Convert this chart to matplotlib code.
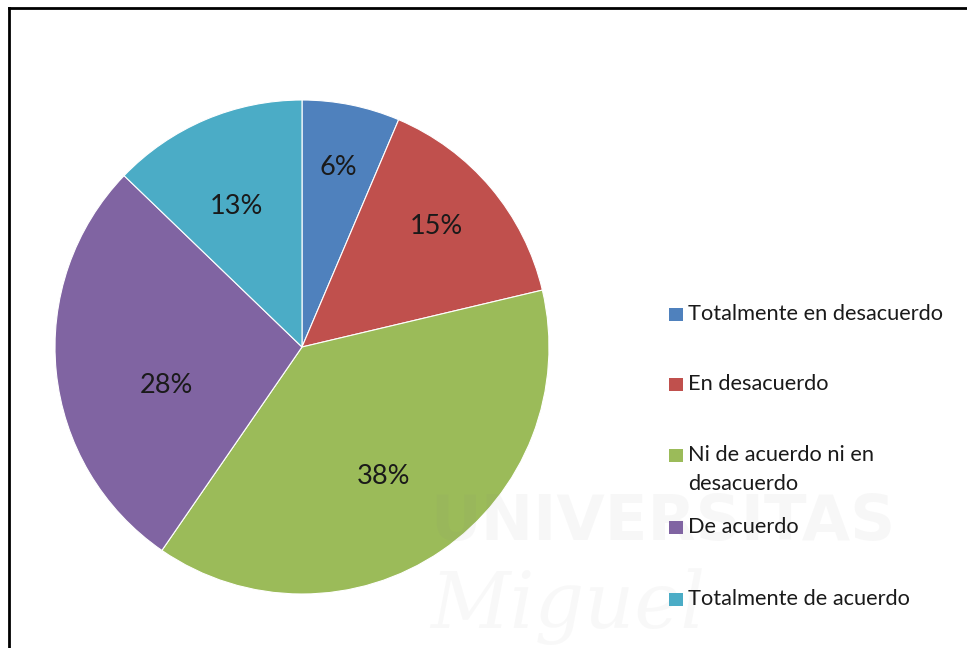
import matplotlib
matplotlib.use('Agg')
from matplotlib import pyplot as plt
from matplotlib.lines import Line2D
from matplotlib.patches import Rectangle
import numpy as np

# shares (labels show rounded values)
categories = ['Totalmente en desacuerdo', 'En desacuerdo', 'Ni de acuerdo ni en\ndesacuerdo',
              'De acuerdo', 'Totalmente de acuerdo']
shares = [6.4, 14.9, 38.3, 27.6, 12.8]
pct_labels = ['6%', '15%', '38%', '28%', '13%']

colors = ['#4F81BD', '#C0504D', '#9BBB59', '#8064A2', '#4BACC6']
# where the % labels sit: radius (fraction of R) and clockwise shift from the slice middle
label_radius = [0.74, 0.73, 0.62, 0.57, 0.63]
label_shift = [0, -1.6, 2.4, -10, -2]
# legend rows, pixel y from top (Excel spaces them unevenly)
legend_y = [314, 384, 455, 527, 599]

plt.rcParams['font.family'] = ['Lato', 'DejaVu Sans']

fig = plt.figure(figsize=(9.67, 6.48), dpi=100)
W, H = 967, 648
cx, cy, r = 302, 347, 247
ax = fig.add_axes([(cx - r) / W, (H - cy - r) / H, 2 * r / W, 2 * r / H])

wedges, texts = ax.pie(shares, colors=colors, startangle=90, counterclock=False,
                       labels=pct_labels, labeldistance=0.7,
                       wedgeprops=dict(linewidth=0.8, edgecolor='white'),
                       textprops=dict(fontsize=19.5, color='#1a1a1a', ha='center', va='center'))
ax.set_xlim(-1, 1)
ax.set_ylim(-1, 1)

for w, t, rad, sh in zip(wedges, texts, label_radius, label_shift):
    ang = np.deg2rad((w.theta1 + w.theta2) / 2 - sh)
    t.set_position((rad * np.cos(ang), rad * np.sin(ang)))

# legend drawn by hand so the two-line entry keeps the marker on its first line
for cat, c, y in zip(categories, colors, legend_y):
    fig.add_artist(Rectangle((669 / W, 1 - (y + 7) / H), 14 / W, 13 / H,
                             transform=fig.transFigure, facecolor=c, edgecolor='none'))
    for i, line in enumerate(cat.split('\n')):
        fig.text(688 / W, 1 - (y + 29 * i) / H, line, fontsize=15.7, color='#1a1a1a',
                 ha='left', va='center')

# faint watermark of the scanned page
fig.text(430 / W, 1 - 540 / H, 'UNIVERSITAS', fontsize=45, fontweight='bold',
         color='#808080', alpha=0.06, family='DejaVu Sans Condensed', zorder=0)
fig.text(430 / W, 1 - 628 / H, 'Miguel', fontsize=56, style='italic',
         color='#808080', alpha=0.05, family='DejaVu Serif', zorder=0)

# frame line left/top
fig.add_artist(Line2D([8.5 / W, 8.5 / W], [0, 1 - 8 / H], transform=fig.transFigure,
                      color='black', linewidth=2))
fig.add_artist(Line2D([8.5 / W, 1], [1 - 8 / H, 1 - 8 / H], transform=fig.transFigure,
                      color='black', linewidth=2))

plt.savefig('out.png', dpi=100)
